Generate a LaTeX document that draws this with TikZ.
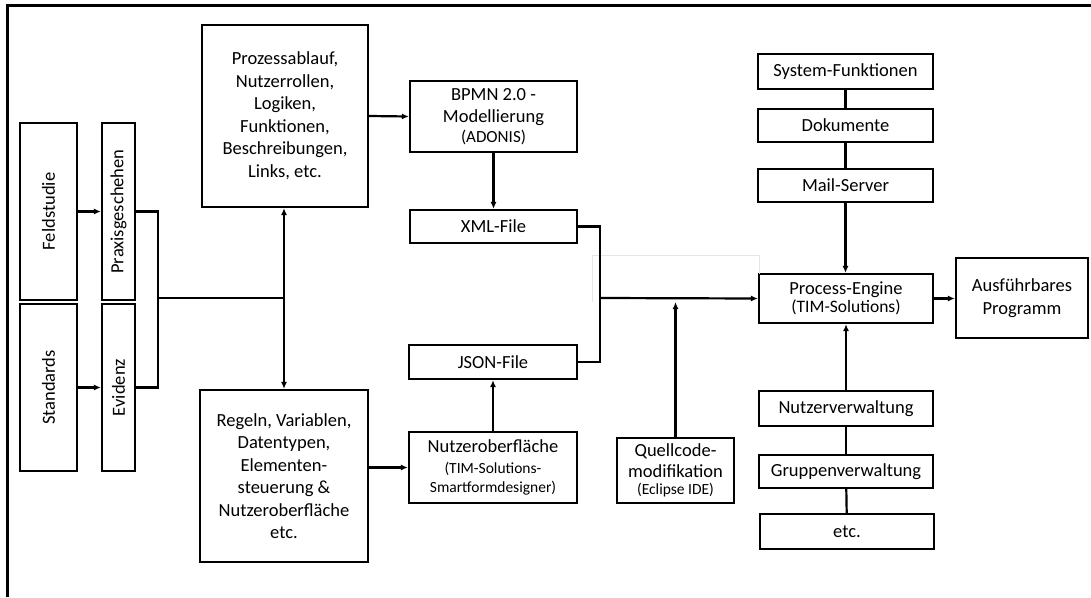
\documentclass[tikz,border=0pt]{standalone}
\usepackage{fontspec}
\setmainfont{Carlito}
\usetikzlibrary{arrows.meta}
\newcommand{\sm}[2][15.5]{{\fontsize{#1}{18}\selectfont #2}}
\begin{document}
\begin{tikzpicture}[x=1pt,y=-1pt,
  box/.style={draw, line width=2.2pt, align=center, inner sep=1pt,
    font=\fontsize{18.5}{22.5}\selectfont},
  con/.style={line width=2.2pt},
  arr/.style={line width=2.2pt, -{Latex[length=7pt,width=6pt]}}]
\useasboundingbox (0,0) rectangle (1091,597);
% frame
\draw[line width=2.2pt] (7.5,597) -- (7.5,5.5) -- (1091,5.5);

% sources
\node[box, minimum width=57pt, minimum height=177pt] (feld) at (48.5,211.5) {\rotatebox{90}{Feldstudie}};
\node[box, minimum width=33pt, minimum height=177pt] (praxis) at (118.5,211.5) {\rotatebox{90}{Praxisgeschehen}};
\node[box, minimum width=57pt, minimum height=167pt] (standards) at (48.5,387.5) {\rotatebox{90}{Standards}};
\node[box, minimum width=33pt, minimum height=167pt] (evidenz) at (118.5,387.5) {\rotatebox{90}{Evidenz}};

% requirements
\node[box, minimum width=166pt, minimum height=182pt] (prozess) at (285,116)
  {Prozessablauf,\\Nutzerrollen,\\Logiken,\\Funktionen,\\Beschreibungen,\\Links, etc.};
\node[box, minimum width=168pt, minimum height=172pt] (regeln) at (284,476)
  {Regeln, Variablen,\\Datentypen,\\Elementen-\\steuerung \&\\Nutzeroberfläche\\etc.};

% modelling tools
\node[box, minimum width=167pt, minimum height=71pt] (bpmn) at (493.5,116.5)
  {BPMN 2.0 -\\Modellierung\\[-3pt]\sm[17]{(ADONIS)}};
\node[box, minimum width=167pt, minimum height=33pt] (xml) at (493.5,226.5) {XML-File};
\node[box, minimum width=168pt, minimum height=34pt] (json) at (493,362) {JSON-File};
\node[box, minimum width=168pt, minimum height=71pt] (nob) at (493,467.5)
  {Nutzeroberfläche\\[-2pt]\sm{(TIM-Solutions-}\\[-3pt]\sm{Smartformdesigner)}};
\node[box, minimum width=117pt, minimum height=65pt] (quell) at (675.5,470.5)
  {Quellcode-\\[-2pt]modifikation\\[-5pt]\sm{(Eclipse IDE)}};

% engine side
\node[box, minimum width=174pt, minimum height=49pt] (engine) at (846,298.5)
  {Process-Engine\\[-4pt]\sm[17.5]{(TIM-Solutions)}};
\node[box, minimum width=132pt, minimum height=80pt] (ausf) at (1022,298)
  {Ausführbares\\Programm};
\node[box, minimum width=175pt, minimum height=35pt] (sysf) at (845.5,71.5) {System-Funktionen};
\node[box, minimum width=175pt, minimum height=33pt] (doku) at (845.5,125.5) {Dokumente};
\node[box, minimum width=175pt, minimum height=33pt] (mail) at (845.5,185.5) {Mail-Server};
\node[box, minimum width=174pt, minimum height=35pt] (nutzerv) at (846,408.5) {Nutzerverwaltung};
\node[box, minimum width=174pt, minimum height=33pt] (gruppe) at (846,471.5) {Gruppenverwaltung};
\node[box, minimum width=174pt, minimum height=35pt] (etc) at (847,531.5) {etc.};

% faint helper frame
\draw[black!10, line width=0.6pt] (592,302) -- (592,255) -- (759,255) -- (759,274);

% junctions
\coordinate (j1) at (158,298);
\coordinate (j2) at (284,298);
\coordinate (j3) at (600,298);

% connectors
\draw[arr] (feld.east) -- (praxis.west);
\draw[arr] (standards.east) -- (evidenz.west);
\draw[con] (praxis.east) -| (j1);
\draw[con] (evidenz.east) -| (j1);
\draw[con] (j1) -- (j2);
\draw[arr] (j2) -- (j2 |- prozess.south);
\draw[arr] (j2) -- (j2 |- regeln.north);
\draw[arr] (prozess.east) -- (bpmn.west);
\draw[arr] (regeln.east |- nob.west) -- (nob.west);
\draw[arr] (bpmn.south) -- (xml.north);
\draw[arr] (nob.north) -- (json.south);
\draw[con] (xml.east) -| (j3);
\draw[con] (json.east) -| (j3);
\draw[arr] (j3) -- (engine.west);
\draw[arr] (quell.north) -- ([yshift=-4pt]quell.north |- j3);
\draw[con] (sysf) -- (doku);
\draw[con] (doku) -- (mail);
\draw[arr] (mail.south) -- (mail.south |- engine.north);
\draw[con] (etc) -- (gruppe);
\draw[con] (gruppe) -- (nutzerv);
\draw[arr] (nutzerv.north) -- (nutzerv.north |- engine.south);
\draw[arr] (engine.east) -- (engine.east -| ausf.west);
\end{tikzpicture}
\end{document}
